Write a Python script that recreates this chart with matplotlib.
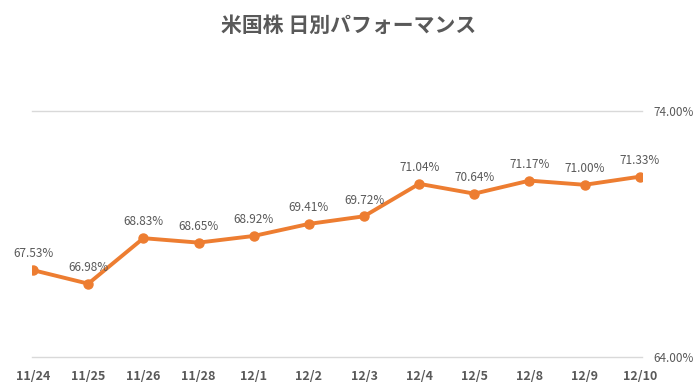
import matplotlib
matplotlib.use("Agg")
import matplotlib.pyplot as plt

plt.rcParams["font.family"] = ["Noto Sans CJK JP", "DejaVu Sans"]

TITLE = "米国株 日別パフォーマンス"
dates = ["11/24", "11/25", "11/26", "11/28", "12/1", "12/2", "12/3",
         "12/4", "12/5", "12/8", "12/9", "12/10"]
performance = [67.53, 66.98, 68.83, 68.65, 68.92, 69.41, 69.72,
               71.04, 70.64, 71.17, 71.00, 71.33]
y_ticks = [64.0, 74.0]

LINE_COLOR = "#ED7D31"
TEXT_COLOR = "#595959"


def main() -> None:
    fig = plt.figure(figsize=(6.98, 3.92), dpi=100)
    ax = fig.add_axes([32 / 698, 35 / 392, 610 / 698, 246 / 392])

    x = list(range(len(dates)))
    ax.plot(x, performance, color=LINE_COLOR, linewidth=2.8, marker="o",
            markersize=6.5, zorder=3)

    for xi, val in zip(x, performance):
        ax.annotate(f"{val:.2f}%", (xi, val), xytext=(0, 7),
                    textcoords="offset points", ha="center", va="bottom",
                    fontsize=8.5, color=TEXT_COLOR)

    # horizontal gridlines only at the two y ticks
    for yv in y_ticks:
        ax.axhline(yv, color="#D9D9D9", linewidth=1, clip_on=False, zorder=1)

    ax.set_xlim(-0.02, 11.04)
    ax.set_ylim(64, 74)
    ax.set_xticks(x)
    ax.set_xticklabels(dates, fontsize=9, fontweight="bold", color=TEXT_COLOR)
    ax.tick_params(axis="x", length=0, pad=9)

    ax.yaxis.tick_right()
    ax.set_yticks(y_ticks)
    ax.set_yticklabels([f"{v:.2f}%" for v in y_ticks], fontsize=8.5,
                       color=TEXT_COLOR)
    ax.tick_params(axis="y", length=0, pad=8)
    for spine in ax.spines.values():
        spine.set_visible(False)

    fig.text(0.5, 1 - 25 / 392, TITLE, ha="center", va="center",
             fontsize=15, fontweight="bold", color=TEXT_COLOR)

    fig.savefig("out.png", dpi=100)
    plt.close(fig)


if __name__ == "__main__":
    main()
